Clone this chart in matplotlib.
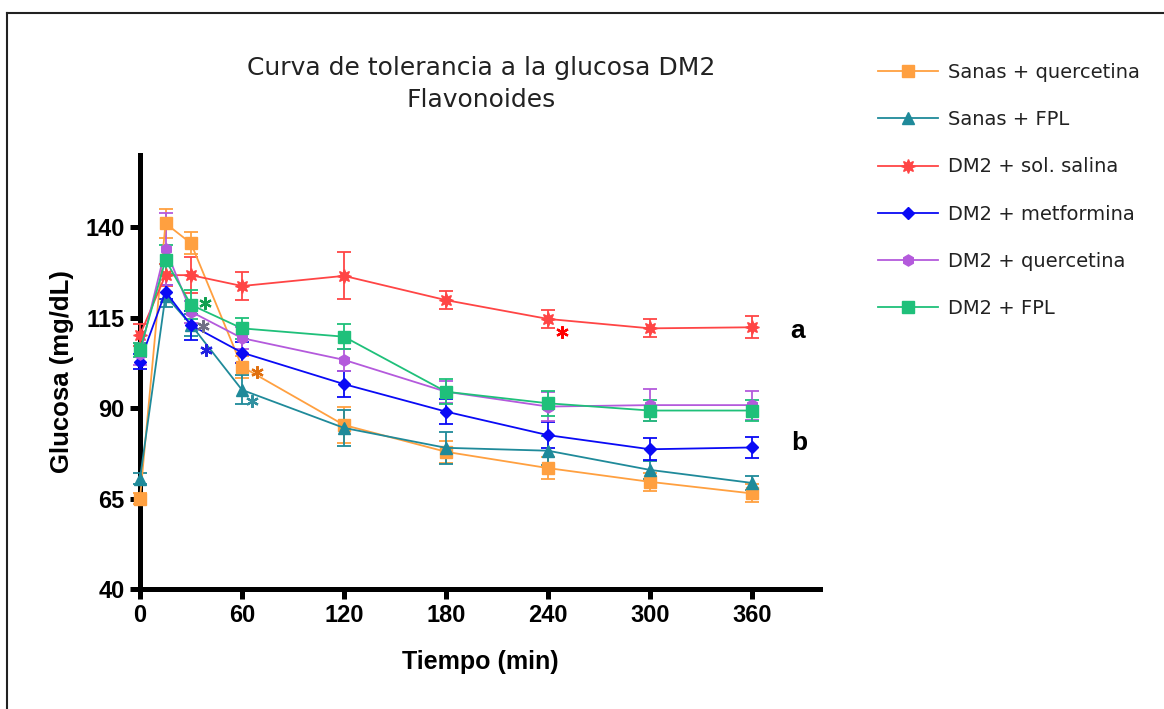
import numpy as np
import matplotlib.pyplot as plt
from matplotlib.lines import Line2D

# Curva de tolerancia a la glucosa (media +/- EE)
tiempo = [0, 15, 30, 60, 120, 180, 240, 300, 360]

grupos = ["Sanas + quercetina", "Sanas + FPL", "DM2 + sol. salina",
          "DM2 + metformina", "DM2 + quercetina", "DM2 + FPL"]

sanas_querc = [65, 141, 135.5, 101.4, 85.3, 77.9, 73.4, 69.6, 66.4]
sanas_querc_ee = [1.5, 4, 3, 3, 5, 3, 3, 2.5, 2.5]

sanas_fpl = [70.5, 121, 113, 95, 84.5, 79, 78.2, 72.9, 69.3]
sanas_fpl_ee = [1.5, 3, 3, 4, 5, 4.5, 4, 2.5, 2]

dm2_salina = [110.2, 126.7, 126.7, 123.7, 126.5, 119.8, 114.6, 112, 112.3]
dm2_salina_ee = [3, 3, 5, 4, 6.5, 2.5, 2.5, 2.5, 3]

dm2_metf = [102.8, 122.1, 112.9, 105.3, 96.6, 89, 82.5, 78.6, 79.1]
dm2_metf_ee = [2, 2, 4, 3, 3.5, 3.5, 3.5, 3, 3]

dm2_querc = [105, 134, 116.6, 109.3, 103.3, 94.5, 90.4, 90.8, 90.8]
dm2_querc_ee = [3, 10, 3, 3, 3, 3, 4, 4.5, 4]

dm2_fpl = [106, 130.9, 118.5, 112, 109.7, 94.5, 91.3, 89.3, 89.3]
dm2_fpl_ee = [2, 4, 4, 3, 3.5, 3.5, 3.5, 3, 3]

medias = [sanas_querc, sanas_fpl, dm2_salina, dm2_metf, dm2_querc, dm2_fpl]
errores = [sanas_querc_ee, sanas_fpl_ee, dm2_salina_ee, dm2_metf_ee, dm2_querc_ee, dm2_fpl_ee]

colores = ["#FFA040", "#1F8A9A", "#FF4545", "#0A0AF5", "#B45ADC", "#1FC07A"]
marcadores = ["s", "^", (8, 1, 0), "D", "h", "s"]
tam = [8, 8, 10, 6.5, 8, 8]

# asteriscos de significancia (t, glucosa, color)
sig_t = [38, 37, 39, 69, 66, 248]
sig_y = [119, 112.6, 106, 100, 92, 111]
sig_col = ["#10A050", "#707085", "#2020E0", "#E07010", "#3090A0", "#FF0000"]

fig = plt.figure(figsize=(11.64, 7.09), dpi=100)
ax = fig.add_axes([140/1164, 120/709, 680/1164, 434.4/709])

handles = []
for i in range(len(grupos)):
    ax.errorbar(tiempo, medias[i], yerr=errores[i], color=colores[i],
                marker=marcadores[i], markersize=tam[i], lw=1.3,
                elinewidth=1.3, capsize=5, capthick=1.3,
                clip_on=False, zorder=5)
    handles.append(Line2D([], [], color=colores[i], marker=marcadores[i],
                          markersize=tam[i], lw=1.3, label=grupos[i]))

for t, y, c in zip(sig_t, sig_y, sig_col):
    ax.plot(t, y, marker=(6, 2, 0), color=c, markersize=9, mew=1.6, zorder=6)

ax.text(387, 111.3, "a", fontsize=19, fontweight="bold", ha="center", va="center",
        family="Liberation Sans")
ax.text(388, 80.3, "b", fontsize=19, fontweight="bold", ha="center", va="center",
        family="Liberation Sans")

ax.set_xlim(0, 400)
ax.set_ylim(40, 160)
ax.set_xticks([0, 60, 120, 180, 240, 300, 360])
ax.set_yticks([40, 65, 90, 115, 140])
ax.spines["top"].set_visible(False)
ax.spines["right"].set_visible(False)
for s in ["left", "bottom"]:
    ax.spines[s].set_linewidth(3.6)
ax.tick_params(width=3.6, length=7, pad=4, labelsize=17)
for lab in ax.get_xticklabels() + ax.get_yticklabels():
    lab.set_fontweight("bold")
    lab.set_family("Liberation Sans")

ax.set_xlabel("Tiempo (min)", fontsize=18, fontweight="bold", family="Liberation Sans",
              labelpad=16)
ax.set_ylabel("Glucosa (mg/dL)", fontsize=18.5, fontweight="bold", family="Liberation Sans",
              labelpad=8)

fig.text(481/1164, 1 - 68/709, "Curva de tolerancia a la glucosa DM2",
         ha="center", va="center", fontsize=18, family="DejaVu Sans", color="#222222")
fig.text(481/1164, 1 - 100/709, "Flavonoides",
         ha="center", va="center", fontsize=18, family="DejaVu Sans", color="#222222")

leg = fig.legend(handles=handles, loc="upper left", bbox_to_anchor=(878/1164, 1 - 63/709),
                 frameon=False, fontsize=14, handlelength=3.1, handletextpad=0.5,
                 labelspacing=1.45, borderpad=0, borderaxespad=0)
for txt in leg.get_texts():
    txt.set_color("#222222")

# marco exterior
fig.add_artist(Line2D([7/1164, 1], [1 - 13/709, 1 - 13/709], color="#222222", lw=1.5,
                      transform=fig.transFigure))
fig.add_artist(Line2D([7/1164, 7/1164], [0, 1 - 13/709], color="#222222", lw=1.5,
                      transform=fig.transFigure))

fig.savefig("out.png", dpi=100)
